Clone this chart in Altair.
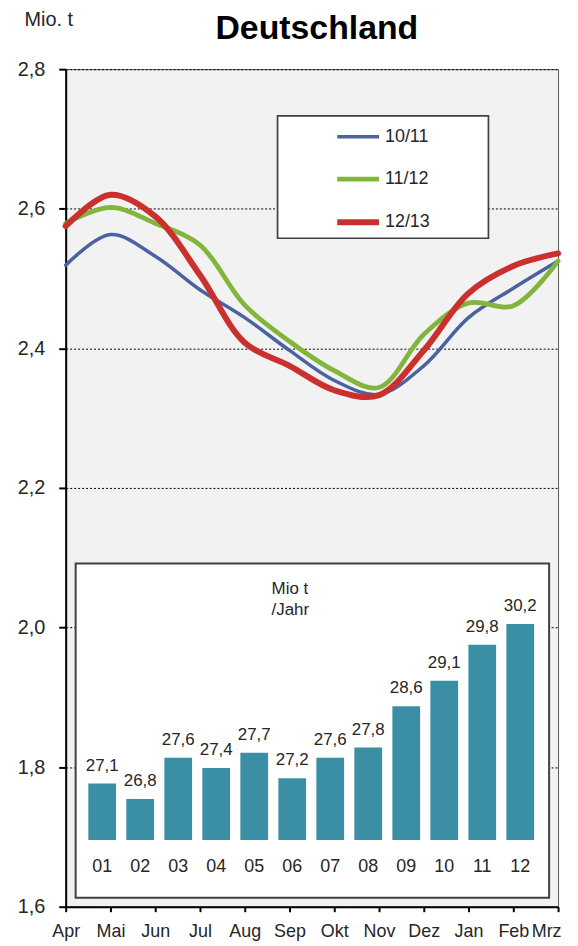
import altair as alt
import pandas as pd

months = ["Apr", "Mai", "Jun", "Jul", "Aug", "Sep", "Okt", "Nov", "Dez", "Jan", "Feb", "Mrz"]
series_names = ["10/11", "11/12", "12/13"]
s_1011 = [2.519, 2.563, 2.532, 2.484, 2.444, 2.397, 2.354, 2.334, 2.375, 2.444, 2.486, 2.525]
s_1112 = [2.579, 2.602, 2.579, 2.548, 2.462, 2.410, 2.368, 2.344, 2.420, 2.465, 2.461, 2.525]
s_1213 = [2.575, 2.620, 2.589, 2.505, 2.408, 2.375, 2.340, 2.333, 2.397, 2.479, 2.518, 2.536]
series_colors = ["#4A63A0", "#82B53C", "#C9302E"]
series_widths = [3.5, 6, 7.5]

years = ["01", "02", "03", "04", "05", "06", "07", "08", "09", "10", "11", "12"]
per_year = [27.1, 26.8, 27.6, 27.4, 27.7, 27.2, 27.6, 27.8, 28.6, 29.1, 29.8, 30.2]

y_ticks = [1.6, 1.8, 2.0, 2.2, 2.4, 2.6, 2.8]

rows = []
for name, vals in zip(series_names, [s_1011, s_1112, s_1213]):
    for m, v in zip(months, vals):
        rows.append({"Monat": m, "Wert": v, "Serie": name})
df_lines = pd.DataFrame(rows)

df_bars = pd.DataFrame({"Jahr": years, "Menge": per_year,
                        "Label": [f"{v:.1f}".replace(".", ",") for v in per_year]})

one = pd.DataFrame({"k": [0]})
FONT = "Liberation Sans"
TXT = "#262626"

legend_box = alt.Chart(one).mark_rect(fill="white", stroke="#404040", strokeWidth=1.7).encode(
    x=alt.value(213), x2=alt.value(425), y=alt.value(47), y2=alt.value(170))

lines = alt.Chart(df_lines).mark_line(interpolate="catmull-rom", strokeCap="round").encode(
    x=alt.X("Monat:O", sort=months, title=None,
            scale=alt.Scale(type="point", padding=0),
            axis=alt.Axis(labelAngle=0, labelFontSize=18, labelColor=TXT, labelFont=FONT,
                          domainColor="black", domainWidth=2, tickColor="black", tickWidth=2,
                          tickSize=5, labelPadding=11, labelOverlap=False, grid=False,
                          labelAlign={"condition": {"test": "datum.label == 'Mrz'", "value": "right"},
                                      "value": "center"},
                          labelOffset={"condition": {"test": "datum.label == 'Mrz'", "value": 3},
                                       "value": 0})),
    y=alt.Y("Wert:Q", title=None,
            scale=alt.Scale(domain=[1.6, 2.8], nice=False, zero=False),
            axis=alt.Axis(values=y_ticks, labelExpr="replace(format(datum.value, '.1f'), '.', ',')",
                          labelFontSize=20, labelColor=TXT, labelFont=FONT, labelPadding=14,
                          domainColor="black", domainWidth=2, tickColor="black", tickWidth=2,
                          tickSize=7, grid=True, gridColor="black", gridDash=[2, 2], gridWidth=1)),
    color=alt.Color("Serie:N", scale=alt.Scale(domain=series_names, range=series_colors),
                    legend=alt.Legend(title=None, orient="none", legendX=270, legendY=45,
                                      symbolType="stroke", symbolSize=1764, symbolStrokeWidth=5,
                                      labelFontSize=18, labelColor=TXT, labelFont=FONT,
                                      labelOffset=3, rowPadding=10, padding=0)),
    strokeWidth=alt.StrokeWidth("Serie:N", scale=alt.Scale(domain=series_names, range=series_widths),
                                legend=None),
)

inset_box = alt.Chart(one).mark_rect(fill="white", stroke="#404040", strokeWidth=2).encode(
    x=alt.value(10), x2=alt.value(486), y=alt.value(497), y2=alt.value(833))

bx = alt.X("Jahr:O", sort=years, title=None,
           scale=alt.Scale(range=[17.6, 476.1], paddingInner=0.27, paddingOuter=0.135), axis=None)
by = alt.Y("Menge:Q", title=None, scale=alt.Scale(domain=[26, 31], range=[775, 516.5], zero=False, nice=False),
           axis=None)

bars = alt.Chart(df_bars).mark_bar(color="#3A8FA5").encode(x=bx, y=by, y2=alt.datum(26))
bar_labels = alt.Chart(df_bars).mark_text(fontSize=17, font=FONT, color=TXT, baseline="alphabetic", dy=-13).encode(
    x=bx, y=by, text="Label:N")
cat_labels = alt.Chart(df_bars).mark_text(fontSize=18, font=FONT, color=TXT, baseline="alphabetic").encode(
    x=bx, y=alt.value(807), text="Jahr:N")
bar_layer = alt.layer(bars, bar_labels, cat_labels)

inset_title = alt.Chart(one).mark_text(text=["Mio t", "/Jahr"], fontSize=17, font=FONT, color=TXT,
                                       align="left", baseline="alphabetic", lineHeight=21).encode(
    x=alt.value(207), y=alt.value(528))

unit_text = alt.Chart(one).mark_text(text="Mio. t", fontSize=20, font=FONT, color=TXT,
                                     align="center", baseline="alphabetic").encode(
    x=alt.value(-17), y=alt.value(-43))

chart = alt.layer(legend_box, lines, inset_box, bar_layer, inset_title, unit_text).resolve_scale(
    x="independent", y="independent", color="independent", strokeWidth="independent"
).properties(
    width=495, height=842,
    title=alt.TitleParams("Deutschland", fontSize=34, fontWeight="bold", font=FONT, color="black",
                          anchor="middle", frame="group", offset=-36, dx=5),
    padding={"left": 9, "top": 0, "right": 0, "bottom": 0},
).configure(
    font=FONT,
    view=alt.ViewConfig(fill="#F2F2F2", stroke="#595959", strokeWidth=1),
)

chart.save("out.html", embed_options={"renderer": "svg", "actions": False})
